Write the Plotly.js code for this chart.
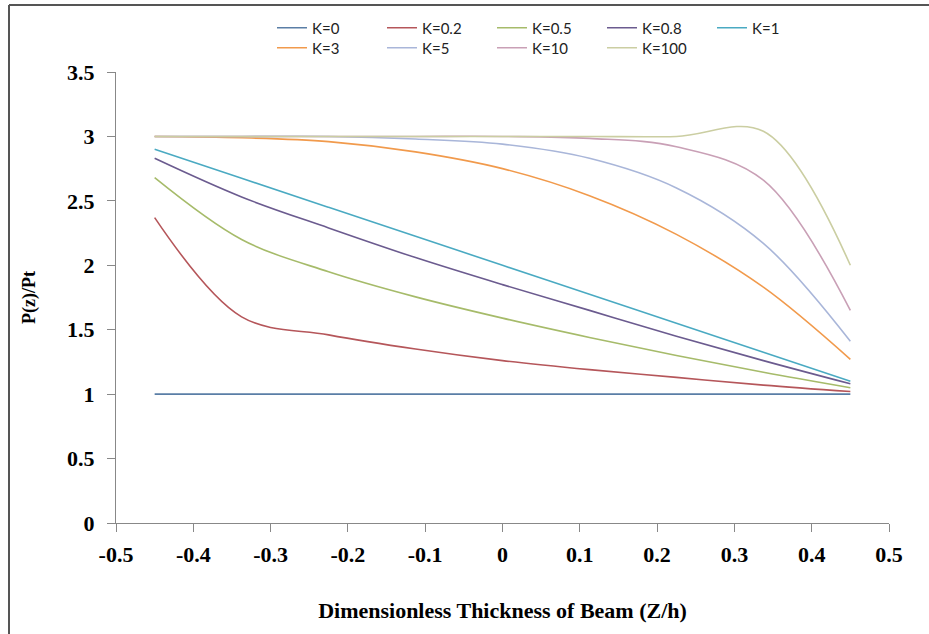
<!DOCTYPE html>
<html>
<head>
<meta charset="utf-8">
<script src="https://cdn.plot.ly/plotly-3.0.1.min.js"></script>
<style>
html,body{margin:0;padding:0;background:#fff;}
#chart{width:929px;height:634px;}
</style>
</head>
<body>
<div id="chart"></div>
<script>
// Dimensionless thickness positions (Z/h)
const z = [-0.45, -0.3375, -0.225, -0.1125, 0, 0.1125, 0.225, 0.3375, 0.45];

// P(z)/Pt series
const k0   = [1.00, 1.00, 1.00, 1.00, 1.00, 1.00, 1.00, 1.00, 1.00];
const k02  = [2.37, 1.60, 1.46, 1.35, 1.26, 1.19, 1.13, 1.07, 1.02];
const k05  = [2.68, 2.20, 1.95, 1.755, 1.59, 1.44, 1.30, 1.17, 1.05];
const k08  = [2.83, 2.53, 2.29, 2.06, 1.85, 1.65, 1.45, 1.26, 1.08];
const k1   = [2.90, 2.675, 2.45, 2.225, 2.00, 1.775, 1.55, 1.325, 1.10];
const k3   = [3.00, 2.99, 2.96, 2.88, 2.75, 2.54, 2.24, 1.83, 1.27];
const k5   = [3.00, 3.00, 3.00, 2.98, 2.94, 2.83, 2.60, 2.17, 1.41];
const k10  = [3.00, 3.00, 3.00, 3.00, 3.00, 2.985, 2.92, 2.66, 1.65];
const k100 = [3.00, 3.00, 3.00, 3.00, 3.00, 3.00, 3.00, 3.04, 2.00];

const seriesNames = ["K=0", "K=0.2", "K=0.5", "K=0.8", "K=1", "K=3", "K=5", "K=10", "K=100"];
const seriesData  = [k0, k02, k05, k08, k1, k3, k5, k10, k100];
const seriesColors = ["#5a7ea6", "#b5565a", "#a6bb6a", "#6b5b8f", "#4aaac2",
                      "#f19a4c", "#a9b6d9", "#c9a0b6", "#cbcea2"];

const xTickVals = [-0.5, -0.4, -0.3, -0.2, -0.1, 0, 0.1, 0.2, 0.3, 0.4, 0.5];
const xTickText = ["-0.5", "-0.4", "-0.3", "-0.2", "-0.1", "0", "0.1", "0.2", "0.3", "0.4", "0.5"];
const yTickVals = [0, 0.5, 1, 1.5, 2, 2.5, 3, 3.5];
const yTickText = ["0", "0.5", "1", "1.5", "2", "2.5", "3", "3.5"];

const traces = seriesNames.map((name, i) => ({
  x: z,
  y: seriesData[i],
  name: name,
  type: "scatter",
  mode: "lines",
  line: {color: seriesColors[i], width: 1.6, shape: "spline", smoothing: 1},
  legend: i < 5 ? "legend" : "legend2",
  hoverinfo: "x+y+name"
}));

// plot area in pixels: left 116, right 889, top 72, bottom 523
const L = 116, R = 889, T = 72, B = 523, W = 929, H = 634;
const px = v => (v - L) / (R - L);
const py = v => (B - v) / (B - T);

const legendFont = {family: "Lato, 'Open Sans', sans-serif", size: 15, color: "#222"};
const serif = "'Liberation Serif', 'Times New Roman', serif";
const tickFont = {family: serif, size: 22, color: "#000", weight: "bold"};

function legendCfg(yPix) {
  return {
    orientation: "h", x: px(272), xanchor: "left", y: py(yPix), yanchor: "middle",
    entrywidth: 65, entrywidthmode: "pixels", font: legendFont,
    bgcolor: "rgba(0,0,0,0)", borderwidth: 0,
    itemclick: false, itemdoubleclick: false, tracegroupgap: 0
  };
}

const layout = {
  width: W, height: H,
  margin: {l: L, r: W - R, t: T, b: H - B, pad: 0},
  paper_bgcolor: "#fff",
  plot_bgcolor: "#fff",
  showlegend: true,
  xaxis: {
    range: [-0.5, 0.5],
    tickmode: "array", tickvals: xTickVals, ticktext: xTickText,
    ticks: "outside", ticklen: 8, tickcolor: "#888", tickwidth: 1,
    ticklabelstandoff: 4,
    showline: true, linecolor: "#888", linewidth: 1,
    showgrid: false, zeroline: false,
    tickfont: tickFont,
    title: {text: "Dimensionless Thickness of Beam (Z/h)", font: {family: serif, size: 22, color: "#000", weight: "bold"}, standoff: 36}
  },
  yaxis: {
    range: [0, 3.5],
    tickmode: "array", tickvals: yTickVals, ticktext: yTickText,
    ticks: "outside", ticklen: 8, tickcolor: "#888", tickwidth: 1,
    ticklabelstandoff: 8,
    showline: true, linecolor: "#888", linewidth: 1,
    showgrid: false, zeroline: false,
    tickfont: tickFont,
    title: {text: "P(z)/Pt", font: {family: serif, size: 18, color: "#000", weight: "bold"}, standoff: 26}
  },
  legend: legendCfg(28),
  legend2: legendCfg(48),
  shapes: [
    {type: "line", xref: "paper", yref: "paper", x0: px(9), x1: px(9), y0: py(5), y1: py(640), line: {color: "#555", width: 2}},
    {type: "line", xref: "paper", yref: "paper", x0: px(9), x1: px(935), y0: py(5), y1: py(5), line: {color: "#555", width: 2}}
  ]
};

Plotly.newPlot("chart", traces, layout, {staticPlot: true, displayModeBar: false});
</script>
</body>
</html>
